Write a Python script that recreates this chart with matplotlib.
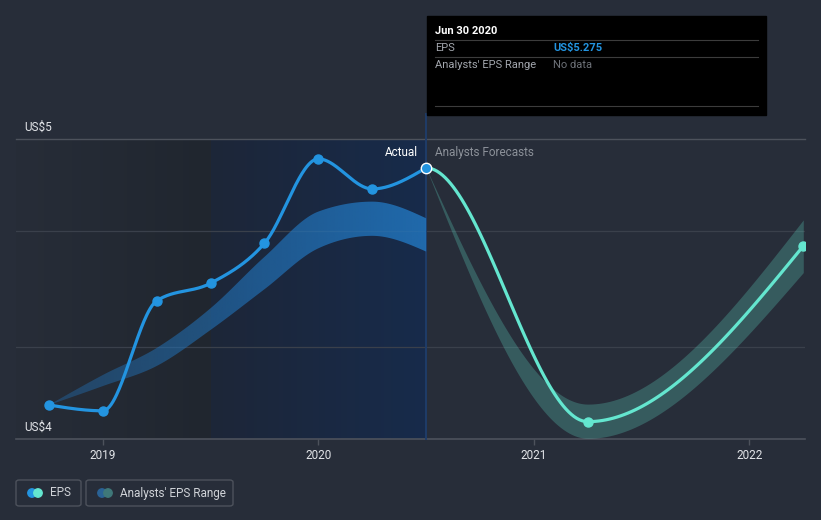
import numpy as np
import matplotlib.pyplot as plt
from matplotlib.patches import FancyBboxPatch, Rectangle
from matplotlib.colors import to_rgb

plt.rcParams['font.family'] = ['Roboto', 'DejaVu Sans']

# quarter ends as decimal years
eps_x = [2018.75, 2019.0, 2019.25, 2019.5, 2019.75, 2020.0, 2020.25, 2020.5]
eps_y = [4.249, 4.224, 4.700, 4.776, 4.949, 5.314, 5.184, 5.275]

past_low = [4.249, 4.331, 4.418, 4.574, 4.750, 4.927, 4.981, 4.913]
past_high = [4.249, 4.379, 4.496, 4.668, 4.890, 5.086, 5.129, 5.057]

fc_x = [2020.5, 2021.25, 2022.25]
fc_y = [5.275, 4.177, 4.937]
fc_low = [5.275, 4.105, 4.822]
fc_high = [5.275, 4.253, 5.050]

x_ticks = [2019, 2020, 2021, 2022]
grid_vals = [4.5, 5.0]

BG = '#272d39'
BLUE = '#2394e0'
TEAL = '#64e6cf'
W, H = 821, 520


def monotone(xs, ys, n=60):
    # d3 curveMonotoneX style interpolation
    xs = np.asarray(xs, float)
    ys = np.asarray(ys, float)
    m = len(xs)
    t = np.zeros(m)
    for i in range(1, m - 1):
        h0, h1 = xs[i] - xs[i-1], xs[i+1] - xs[i]
        s0, s1 = (ys[i] - ys[i-1]) / h0, (ys[i+1] - ys[i]) / h1
        p = (s0 * h1 + s1 * h0) / (h0 + h1)
        t[i] = (np.sign(s0) + np.sign(s1)) * min(abs(s0), abs(s1), 0.5 * abs(p))
    t[0] = (3 * (ys[1] - ys[0]) / (xs[1] - xs[0]) - t[1]) / 2
    t[-1] = (3 * (ys[-1] - ys[-2]) / (xs[-1] - xs[-2]) - t[-2]) / 2
    ox, oy = [], []
    for i in range(m - 1):
        h = xs[i+1] - xs[i]
        u = np.linspace(0, 1, n)
        h00 = 2*u**3 - 3*u**2 + 1
        h10 = u**3 - 2*u**2 + u
        h01 = -2*u**3 + 3*u**2
        h11 = u**3 - u**2
        ox.append(xs[i] + u * h)
        oy.append(h00*ys[i] + h10*h*t[i] + h01*ys[i+1] + h11*h*t[i+1])
    return np.concatenate(ox), np.concatenate(oy)


def fx(px):
    return px / W


def fy(py):
    return 1 - py / H


fig = plt.figure(figsize=(W / 100, H / 100), dpi=100, facecolor=BG)
ax = fig.add_axes([fx(16), fy(439), (805 - 16) / W, 300 / H])
ax.set_facecolor(BG)
x0, x1 = 2018.597, 2022.258
y0, y1 = 4.102, 5.400


def hgrad(c_left, c_right, xa, xb, z):
    a, b = np.array(to_rgb(c_left)), np.array(to_rgb(c_right))
    u = np.linspace(0, 1, 256)[None, :, None]
    img = a + (b - a) * u
    ax.imshow(img, extent=[xa, xb, y0, y1], aspect='auto', zorder=z, interpolation='bilinear')


hgrad('#272d38', '#20262f', x0, 2019.5, 0)
hgrad('#1d2638', '#172b4b', 2019.5, 2020.5, 0)

for g in grid_vals:
    ax.axhline(g, color='#3a404b', lw=0.9, zorder=1)
ax.axhline(y1, color='#4d525c', lw=1.0, zorder=1, clip_on=False)
ax.axhline(y0, color='#4d525c', lw=1.2, zorder=1, clip_on=False)

# past analysts range with horizontal fade
bx, bl = monotone(eps_x, past_low)
_, bh = monotone(eps_x, past_high)
poly = ax.fill_between(bx, bl, bh, color='none', lw=0)
rgb = np.array(to_rgb('#2275bd'))
u = np.linspace(0, 1, 256)
img = np.zeros((1, 256, 4))
img[0, :, :3] = rgb
img[0, :, 3] = 0.35 + 0.5 * u
im = ax.imshow(img, extent=[eps_x[0], eps_x[-1], y0, y1], aspect='auto', zorder=2,
               interpolation='bilinear')
im.set_clip_path(poly.get_paths()[0], transform=ax.transData)

# forecast range
fxs, fl = monotone(fc_x, fc_low)
_, fh = monotone(fc_x, fc_high)
ax.fill_between(fxs, fl, fh, color=TEAL, alpha=0.25, lw=0, zorder=2)

# separator between actual and forecast
ax.plot([2020.5, 2020.5], [y0, 5.509], color='#1f3c68', lw=1.4, zorder=1, clip_on=False)

# actual EPS
lx, ly = monotone(eps_x, eps_y)
ax.plot(lx, ly, color=BLUE, lw=2.3, zorder=4, solid_capstyle='round')
ax.plot(eps_x[:-1], eps_y[:-1], 'o', color=BLUE, ms=6.5, zorder=5)

# forecast EPS (previous actual used for tangent)
tx, ty = monotone([eps_x[-2]] + fc_x, [eps_y[-2]] + fc_y)
keep = tx >= fc_x[0]
ax.plot(tx[keep], ty[keep], color=TEAL, lw=2.3, zorder=4)
ax.plot(fc_x[1:], fc_y[1:], 'o', color=TEAL, ms=6.5, zorder=5)
ax.plot(eps_x[-1], eps_y[-1], 'o', color=BLUE, ms=7.5, mec='white', mew=1.0, zorder=6,
        clip_on=False)

ax.set_xlim(x0, x1)
ax.set_ylim(y0, y1)
ax.set_yticks([])
ax.set_xticks(x_ticks)
ax.set_xticklabels([str(v) for v in x_ticks])
ax.tick_params(axis='x', colors='#4d525c', labelcolor='#e2e4e8', length=4, width=1,
               labelsize=8.5, pad=3)
for s in ax.spines.values():
    s.set_visible(False)

ax.text(2020.5 - 0.04, 5.34, 'Actual', color='white', fontsize=8.5, ha='right', va='center')
ax.text(2020.5 + 0.04, 5.34, 'Analysts Forecasts', color='#8c9199', fontsize=8.5,
        ha='left', va='center')

fig.text(fx(24), fy(127), 'US$5', color='#e2e4e8', fontsize=8.5, va='center')
fig.text(fx(24), fy(427), 'US$4', color='#e2e4e8', fontsize=8.5, va='center')

# tooltip
fig.patches.append(Rectangle((fx(427), fy(115)), (766 - 427) / W, (115 - 16) / H,
                             transform=fig.transFigure, color='black', zorder=10))
for py in [40, 57, 106]:
    fig.add_artist(plt.Line2D([fx(435), fx(758)], [fy(py), fy(py)], color='#3c3c3c', lw=0.8,
                              zorder=11))
fig.text(fx(435), fy(31), 'Jun 30 2020', color='white', fontsize=8, fontweight='bold',
         va='center', zorder=12)
fig.text(fx(435), fy(48), 'EPS', color='#a3a7ae', fontsize=8, va='center', zorder=12)
fig.text(fx(553), fy(48), 'US$5.275', color=BLUE, fontsize=8, fontweight='bold',
         va='center', zorder=12)
fig.text(fx(435), fy(65), "Analysts' EPS Range", color='#a3a7ae', fontsize=8, va='center',
         zorder=12)
fig.text(fx(553), fy(65), 'No data', color='#6e7279', fontsize=8, va='center', zorder=12)

# legend
for (xa, xb, label, ca, cb) in [(16, 81, 'EPS', BLUE, TEAL),
                               (86, 233, "Analysts' EPS Range", '#2a6295', '#3f7879')]:
    fig.patches.append(FancyBboxPatch((fx(xa), fy(506)), (xb - xa) / W, 26 / H,
                                      boxstyle='round,pad=0,rounding_size=0.004',
                                      transform=fig.transFigure, fc='none', ec='#4d525c',
                                      lw=1.0))
    r = 4.2
    fig.patches.append(plt.Circle((xa + 16, H - 493), r, color=ca, transform=None))
    fig.patches.append(plt.Circle((xa + 22, H - 493), r, color=cb, transform=None))
    fig.text(fx(xa + 34), fy(493), label, color='#d0d3d8', fontsize=8.5, va='center')

fig.savefig('out.png', dpi=100, facecolor=BG)
